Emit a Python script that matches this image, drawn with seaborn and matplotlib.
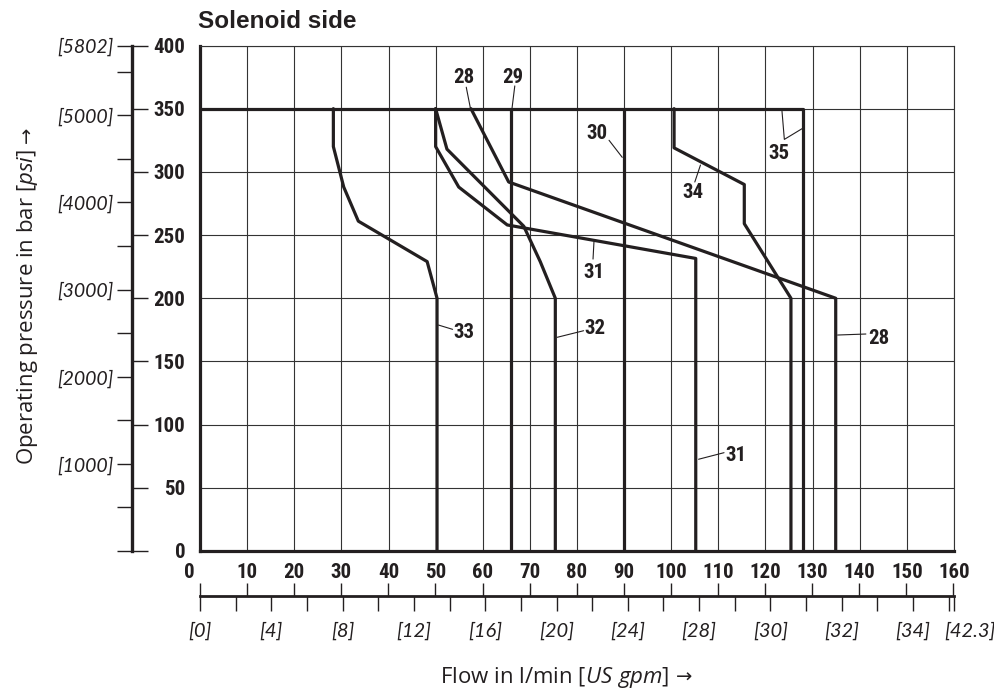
import numpy as np
import pandas as pd
import seaborn as sns
import matplotlib.pyplot as plt
from matplotlib.transforms import ScaledTranslation

# ---- data (flow in l/min, pressure in bar) ----
flow_28 = [57.5, 65.5, 134.9, 134.9]
bar_28 = [350, 292, 200, 0]
flow_29 = [66.1, 66.1]
bar_29 = [350, 0]
flow_30 = [90.0, 90.0]
bar_30 = [350, 0]
flow_31 = [50.0, 50.0, 54.9, 65.2, 105.2, 105.2]
bar_31 = [350, 320, 288, 258, 231.5, 0]
flow_32 = [50.0, 52.4, 68.7, 72.2, 75.4, 75.4]
bar_32 = [350, 318, 257, 229, 200, 0]
flow_33 = [28.3, 28.3, 30.5, 33.6, 48.2, 50.3, 50.3]
bar_33 = [350, 320, 288, 261, 229, 200, 0]
flow_34 = [100.6, 100.6, 115.5, 115.5, 125.4, 125.4]
bar_34 = [350, 319, 290, 259, 200, 0]
flow_35 = [0, 128.0, 128.0]
bar_35 = [350, 350, 0]

curves = {
    "28": (flow_28, bar_28), "29": (flow_29, bar_29), "30": (flow_30, bar_30),
    "31": (flow_31, bar_31), "32": (flow_32, bar_32), "33": (flow_33, bar_33),
    "34": (flow_34, bar_34), "35": (flow_35, bar_35),
}

flow_ticks = list(range(0, 161, 10))
bar_ticks = list(range(0, 401, 50))
psi_ticks = list(range(0, 5501, 500)) + [5802]
psi_labels = ["", "", "[1000]", "", "[2000]", "", "[3000]", "", "[4000]", "", "[5000]", "", "[5802]"]
gpm_ticks = list(range(0, 43, 2)) + [42.3]
gpm_labels = ["[0]", "", "[4]", "", "[8]", "", "[12]", "", "[16]", "", "[20]", "",
              "[24]", "", "[28]", "", "[30]", "", "[32]", "", "[34]", "", "[42.3]"]

# curve numbers: text position, leader line (flow, bar)
callouts = [
    ("28", (55.9, 375), [(56.5, 367), (57.4, 350)]),
    ("29", (66.4, 375), [(66.8, 368), (66.2, 350)]),
    ("30", (84.3, 330.5), [(86.8, 325), (89.6, 311.5)]),
    ("34", (104.6, 284), [(105.0, 292), (106.2, 305.4)]),
    ("35", (122.8, 314.7), [(123.5, 348), (124.0, 325.7), (127.9, 334.5)]),
    ("31", (83.6, 220), [(83.4, 231), (83.6, 244.7)]),
    ("33", (55.9, 172.7), [(53.6, 175.4), (50.6, 178.8)]),
    ("32", (83.8, 175.9), [(81.4, 174.3), (75.8, 169.1)]),
    ("28", (144.0, 168.3), [(141.3, 171.7), (135.3, 170.9)]),
    ("31", (113.7, 75.2), [(111.2, 77.8), (105.8, 72.6)]),
]

rows = []
for name, (fl, pr) in curves.items():
    for i, (f, p) in enumerate(zip(fl, pr)):
        rows.append({"curve": name, "order": i, "flow": f, "bar": p})
df = pd.DataFrame(rows)

sns.set_theme(style="white")
plt.rcParams["font.family"] = ["Lato", "DejaVu Sans"]
plt.rcParams["mathtext.fontset"] = "custom"
plt.rcParams["mathtext.rm"] = "Open Sans"
plt.rcParams["mathtext.it"] = "Open Sans:italic"

NARROW = ["Liberation Sans Narrow", "Noto Sans Condensed", "Roboto Condensed",
          "DejaVu Sans Condensed", "Liberation Sans"]
NUM = dict(fontfamily=NARROW, fontstretch="condensed", fontweight="bold", fontsize=15)
AXT = dict(fontfamily=["Open Sans", "DejaVu Sans"], fontsize=16)
ARROW = dict(fontfamily="DejaVu Sans", fontsize=14)
INK = "#231f20"
GRID = "#333333"

fig = plt.figure(figsize=(9.95, 6.9), dpi=100)
L, B, W, H = 200 / 995, 1 - 551 / 690, 754 / 995, 505.5 / 690

# ---- main chart ----
ax = fig.add_axes([L, B, W, H])
sns.lineplot(data=df, x="flow", y="bar", units="curve", estimator=None, sort=False,
             color=INK, linewidth=2.3, ax=ax, legend=False)
ax.set_xlim(0, 160)
ax.set_ylim(0, 400)
ax.set_axisbelow(True)
ax.grid(True, color=GRID, linewidth=0.8)
ax.set_xlabel("")
ax.set_ylabel("")
for s in ["left", "bottom"]:
    ax.spines[s].set_linewidth(2.3)
    ax.spines[s].set_color(INK)
for s in ["top", "right"]:
    ax.spines[s].set_linewidth(0.8)
    ax.spines[s].set_color(GRID)
ax.set_xticks(flow_ticks, [str(t) for t in flow_ticks], color=INK, **NUM)
ax.set_yticks(bar_ticks, [str(t) for t in bar_ticks], color=INK, **NUM)
ax.tick_params(axis="x", length=0, pad=9)
ax.tick_params(axis="y", length=0, pad=10.5)
lab0 = ax.get_xticklabels()[0]
lab0.set_transform(lab0.get_transform() + ScaledTranslation(-0.11, 0, fig.dpi_scale_trans))

for txt, (tx, ty), pts in callouts:
    xs, ys = zip(*pts)
    ax.plot(xs, ys, color=INK, linewidth=0.8)
    ax.text(tx, ty, txt, ha="center", va="center", color=INK, **NUM)

# ---- psi scale on the left ----
ax_p = fig.add_axes([132.5 / 995, B, 0.0005, H])
ax_p.set_facecolor("none")
ax_p.set_ylim(0, 400)
ax_p.set_xticks([])
for s in ["top", "bottom", "right"]:
    ax_p.spines[s].set_visible(False)
ax_p.spines["left"].set_linewidth(2.4)
ax_p.spines["left"].set_color(INK)
ax_p.yaxis.remove_overlapping_locs = False
ax_p.set_yticks([p / 14.5038 for p in psi_ticks], psi_labels, fontstyle="italic",
                fontsize=14, color=INK)
ax_p.set_yticks(bar_ticks, minor=True)
ax_p.tick_params(axis="y", which="major", left=True, right=False, direction="out",
                 length=10.8, width=1.0, color=INK, pad=3)
ax_p.tick_params(axis="y", which="minor", left=False, right=True, direction="out",
                 length=10.8, width=1.0, color=INK, labelright=False)

# ---- US gpm scale below ----
ax_g = fig.add_axes([L, 1 - 596 / 690, W, 0.0005])
ax_g.set_facecolor("none")
ax_g.set_xlim(0, 160)
ax_g.set_yticks([])
for s in ["top", "left", "right"]:
    ax_g.spines[s].set_visible(False)
ax_g.spines["bottom"].set_linewidth(2.0)
ax_g.spines["bottom"].set_color(INK)
ax_g.xaxis.remove_overlapping_locs = False
ax_g.set_xticks([g * 3.785411784 for g in gpm_ticks], gpm_labels, fontstyle="italic",
                fontsize=14.5, color=INK)
ax_g.set_xticks(flow_ticks, minor=True)
ax_g.tick_params(axis="x", which="major", bottom=True, top=False, direction="out",
                 length=10.8, width=1.0, color=INK, pad=8)
ax_g.tick_params(axis="x", which="minor", bottom=False, top=True, direction="out",
                 length=9.4, width=1.0, color=INK, labeltop=False)
lab_end = ax_g.get_xticklabels()[-1]
lab_end.set_transform(lab_end.get_transform() + ScaledTranslation(0.16, 0, fig.dpi_scale_trans))

# ---- titles ----
fig.text(198 / 995, 1 - 28.5 / 690, "Solenoid side", fontfamily=["Liberation Sans", "DejaVu Sans"],
         fontweight="bold", fontsize=17.5, color=INK, va="baseline", ha="left")

yl_x, yl_y = 33 / 995, 1 - 465 / 690
t_y = fig.text(yl_x, yl_y, r"Operating pressure in bar $\mathit{[psi]}$", rotation=90,
               rotation_mode="anchor", ha="left", va="baseline", color=INK, **AXT)
ax.annotate("→", xy=(yl_x, 1), xycoords=("figure fraction", t_y), xytext=(0, 4),
            textcoords="offset points", rotation=90, rotation_mode="anchor",
            ha="left", va="baseline", color=INK, annotation_clip=False, **ARROW)

xl_x, xl_y = 440 / 995, 1 - 682.5 / 690
t_x = fig.text(xl_x, xl_y, r"Flow in l/min $\mathit{[US\ gpm]}$", ha="left",
               va="baseline", color=INK, **AXT)
ax.annotate("→", xy=(1, xl_y), xycoords=(t_x, "figure fraction"), xytext=(5, 0),
            textcoords="offset points", ha="left", va="baseline", color=INK,
            annotation_clip=False, **ARROW)

fig.savefig("out.png", dpi=100)
